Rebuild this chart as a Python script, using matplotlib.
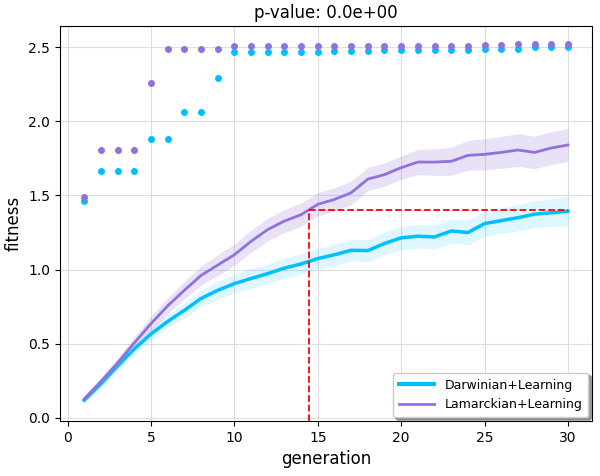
import numpy as np
import matplotlib
matplotlib.use("Agg")
import matplotlib.pyplot as plt

generations = list(range(1, 31))

darwin_mean = [0.12, 0.23, 0.35, 0.465, 0.565, 0.65, 0.725, 0.805, 0.86, 0.905,
               0.94, 0.973, 1.01, 1.038, 1.074, 1.10, 1.13, 1.128, 1.176, 1.214,
               1.225, 1.22, 1.26, 1.25, 1.31, 1.33, 1.35, 1.374, 1.383, 1.394]
darwin_std = [0.02, 0.025, 0.03, 0.035, 0.04, 0.045, 0.05, 0.055, 0.06, 0.065,
              0.066, 0.067, 0.068, 0.068, 0.068, 0.07, 0.072, 0.074, 0.076, 0.079,
              0.08, 0.081, 0.082, 0.083, 0.084, 0.086, 0.088, 0.09, 0.094, 0.097]

lamarck_mean = [0.128, 0.245, 0.37, 0.505, 0.635, 0.755, 0.86, 0.96, 1.03, 1.10,
                1.19, 1.27, 1.327, 1.37, 1.44, 1.473, 1.518, 1.61, 1.64, 1.687,
                1.725, 1.725, 1.73, 1.77, 1.777, 1.79, 1.806, 1.79, 1.82, 1.84]
lamarck_std = [0.02, 0.028, 0.035, 0.04, 0.05, 0.055, 0.06, 0.065, 0.07, 0.073,
               0.075, 0.077, 0.078, 0.079, 0.079, 0.079, 0.079, 0.079, 0.079, 0.079,
               0.085, 0.09, 0.095, 0.1, 0.105, 0.108, 0.11, 0.11, 0.111, 0.112]

darwin_best = [1.46, 1.667, 1.667, 1.667, 1.88, 1.88, 2.06, 2.06, 2.295, 2.47,
               2.47, 2.47, 2.47, 2.47, 2.47, 2.475, 2.475, 2.475, 2.48, 2.48,
               2.48, 2.48, 2.48, 2.48, 2.485, 2.485, 2.49, 2.50, 2.50, 2.50]
lamarck_best = [1.49, 1.806, 1.806, 1.806, 2.26, 2.49, 2.49, 2.49, 2.49, 2.505,
                2.505, 2.505, 2.505, 2.505, 2.505, 2.505, 2.505, 2.505, 2.505, 2.505,
                2.505, 2.505, 2.505, 2.505, 2.515, 2.515, 2.52, 2.52, 2.52, 2.52]

cross_gen = 14.45
target_value = 1.40
title_text = "p-value: 0.0e+00"

c_d = "#00BFFF"
c_l = "#9370DB"

fig = plt.figure(figsize=(6.0, 4.76), dpi=100)
ax = fig.add_axes([0.1, 0.1155, 0.887, 0.8295])

g = np.array(generations)
dm, ds = np.array(darwin_mean), np.array(darwin_std)
lm, ls = np.array(lamarck_mean), np.array(lamarck_std)

ax.fill_between(g, dm - ds, dm + ds, color=c_d, alpha=0.13, linewidth=0)
ax.fill_between(g, lm - ls, lm + ls, color=c_l, alpha=0.2, linewidth=0)
ax.plot(g, dm, color=c_d, lw=2.5, label="Darwinian+Learning")
ax.plot(g, lm, color=c_l, lw=2, label="Lamarckian+Learning")
ax.scatter(g, darwin_best, s=16, color=c_d, zorder=3)
ax.scatter(g, lamarck_best, s=16, color=c_l, zorder=3)

ax.grid(True, color="#dddddd", linewidth=0.8)
ax.set_axisbelow(True)
ylim = ax.get_ylim()
xlim = ax.get_xlim()
ax.plot([cross_gen, cross_gen], [ylim[0], target_value], color="red", ls="--", lw=1.3, zorder=4)
ax.plot([cross_gen, generations[-1]], [target_value, target_value], color="red", ls="--", lw=1.3, zorder=4)
ax.set_ylim(ylim)
ax.set_xlim(xlim)

ax.set_xticks([0, 5, 10, 15, 20, 25, 30])
ax.set_yticks([0.0, 0.5, 1.0, 1.5, 2.0, 2.5])
ax.tick_params(labelsize=10)
ax.set_xlabel("generation", fontsize=12)
ax.set_ylabel("fitness", fontsize=12)
ax.set_title(title_text, fontsize=12)

leg = ax.legend(loc="lower right", fontsize=9, shadow=True, fancybox=True, framealpha=1,
                handlelength=2.8, borderpad=0.5, borderaxespad=0.3)
leg.get_lines()[0].set_linewidth(3)
leg.get_lines()[1].set_linewidth(2)

fig.savefig("out.png", dpi=100)
